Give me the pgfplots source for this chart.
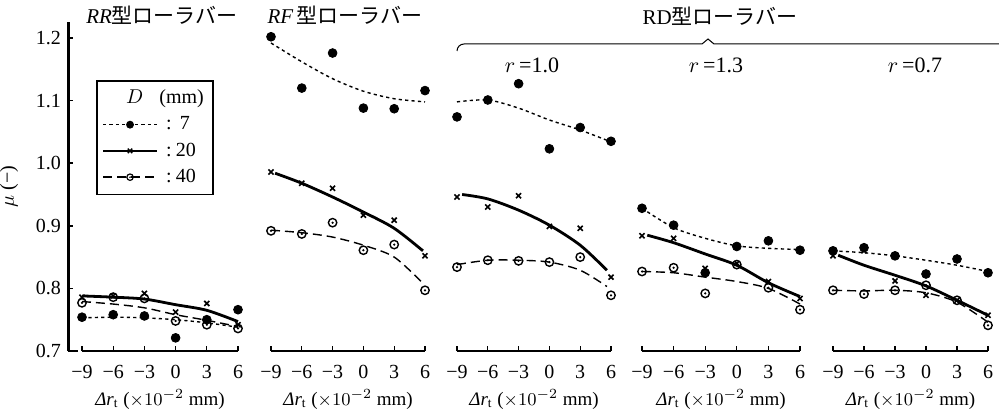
\documentclass[border=0pt]{standalone}
\usepackage{fontspec}
\setmainfont{Liberation Serif}
\newfontfamily\jp{Noto Sans CJK JP}
\usepackage{pgfplots}
\pgfplotsset{compat=1.18}
\pgfdeclareplotmark{odot}{%
  \pgfpathcircle{\pgfpointorigin}{\pgfplotmarksize}\pgfusepathqstroke
  \pgfpathcircle{\pgfpointorigin}{0.3\pgfplotmarksize}\pgfusepathqfill}
\pgfplotsset{
  s7line/.style={black, line width=0.7pt, dash pattern=on 1.6pt off 1.6pt},
  s20line/.style={black, line width=1.4pt},
  s40line/.style={black, line width=0.7pt, dash pattern=on 4.5pt off 2.5pt},
  s7mark/.style={black, only marks, mark=*, mark size=2.2pt, forget plot},
  s20mark/.style={black, only marks, mark=x, mark size=1.8pt, mark options={line width=0.8pt}, forget plot},
  s40mark/.style={black, only marks, mark=odot, mark size=2.1pt, mark options={line width=0.7pt}, forget plot},
  panel/.style={scale only axis, anchor=south west, height=156.5pt,
    xmin=-9, xmax=6, ymin=0.7, ymax=1.2, clip=false,
    axis x line*=bottom, axis y line=none,
    x axis line style={line width=1.4pt, -},
    xtick={-9,-6,-3,0,3,6}, xticklabels={−9,−6,−3,0,3,6},
    tick align=inside, major tick length=2.5pt,
    tick style={black, line width=0.6pt},
    xticklabel style={font=\fontsize{10}{11}\selectfont, yshift=-3.5pt},
    xlabel={{\itshape Δr}$_{\mathrm{t}}$ (${\times}10^{-2}$ mm)},
    xlabel style={font=\fontsize{9.5}{11}\selectfont, yshift=1.5pt},
  },
}
\begin{document}
\begin{tikzpicture}
\useasboundingbox (0pt,0pt) rectangle (499.5pt,206pt);
% y axis
\begin{axis}[scale only axis, anchor=south west, at={(34pt,30.5pt)},
  width=1pt, height=164.5pt, xmin=0, xmax=1, ymin=0.7, ymax=1.2256,
  axis x line=none, axis y line*=left,
  y axis line style={line width=1.5pt, -},
  ytick={0.7,0.8,0.9,1.0,1.1,1.2}, yticklabels={0.7,0.8,0.9,1.0,1.1,1.2},
  tick align=inside, major tick length=2.5pt, tick style={black, line width=0.8pt},
  extra y ticks={0.7}, extra y tick labels={}, extra y tick style={major tick length=5pt, tick style={line width=1.2pt}},
  yticklabel style={font=\fontsize{10}{11}\selectfont},
  ylabel={$\mu$ (−)}, ylabel style={font=\fontsize{10}{12}\selectfont, yshift=2pt},
]
\end{axis}
% Panel 1 RR
\begin{axis}[panel, at={(41pt,30.5pt)}, width=78pt,
  legend style={at={(0.09,0.866)}, anchor=north west, draw=black, line width=0.8pt,
    font=\fontsize{10}{12}\selectfont, row sep=1pt, inner sep=2.5pt, cells={anchor=west}},
  legend image code/.code={\draw[mark repeat=2,mark phase=2,#1] plot coordinates {(0pt,0pt) (13.5pt,0pt) (27pt,0pt)};},
]
\addlegendimage{empty legend}
\addlegendentry{\hspace*{-18pt}$D$\hspace*{8pt}(mm)}
\addlegendimage{s7line, mark=*, mark size=1.6pt, mark options={solid}}
\addlegendentry{\hspace{2pt}:\hspace{4pt}7}
\addlegendimage{s20line, line width=1.2pt, mark=x, mark size=1.6pt, mark options={solid, line width=0.7pt}}
\addlegendentry{\hspace{2pt}:\hspace{2pt}20}
\addlegendimage{s40line, mark=odot, mark size=1.6pt, mark options={solid, line width=0.6pt}}
\addlegendentry{\hspace{2pt}:\hspace{2pt}40}
\addplot[s7line, smooth, forget plot] coordinates {(-9,0.753)(-6,0.754)(-3,0.753)(0,0.750)(3,0.745)(6,0.738)};
\addplot[s20line, smooth, forget plot] coordinates {(-9,0.788)(-6,0.786)(-3,0.783)(0,0.774)(3,0.765)(6,0.747)};
\addplot[s40line, smooth, forget plot] coordinates {(-9,0.779)(-6,0.775)(-3,0.769)(0,0.758)(3,0.749)(6,0.739)};
\addplot[s7mark] coordinates {(-9,0.754)(-6,0.758)(-3,0.756)(0,0.721)(3,0.750)(6,0.766)};
\addplot[s20mark] coordinates {(-9,0.786)(-6,0.788)(-3,0.792)(0,0.762)(3,0.776)(6,0.742)};
\addplot[s40mark] coordinates {(-9,0.777)(-6,0.786)(-3,0.784)(0,0.748)(3,0.742)(6,0.736)};
\end{axis}
% Panel 2 RF
\begin{axis}[panel, at={(135.5pt,30.5pt)}, width=77pt]
\addplot[s7line, smooth] coordinates {(-9,1.192)(-6,1.162)(-3,1.135)(0,1.115)(3,1.103)(6,1.098)};
\addplot[s20line, smooth] coordinates {(-8.6,0.984)(-6,0.968)(-3,0.946)(0,0.922)(3,0.896)(5.8,0.860)};
\addplot[s40line, smooth] coordinates {(-9,0.893)(-6,0.889)(-3,0.882)(0,0.869)(3,0.850)(5.8,0.808)};
\addplot[s7mark] coordinates {(-9,1.202)(-6,1.120)(-3,1.176)(0,1.088)(3,1.087)(6,1.116)};
\addplot[s20mark] coordinates {(-9,0.986)(-6,0.968)(-3,0.960)(0,0.917)(3,0.909)(6,0.852)};
\addplot[s40mark] coordinates {(-9,0.892)(-6,0.887)(-3,0.905)(0,0.861)(3,0.870)(6,0.797)};
\end{axis}
% Panel 3 RD r=1.0
\begin{axis}[panel, at={(228.5pt,30.5pt)}, width=77pt]
\addplot[s7line, smooth] coordinates {(-9,1.098)(-6,1.101)(-3,1.088)(0,1.069)(3,1.053)(6,1.034)};
\addplot[s20line, smooth] coordinates {(-8.5,0.950)(-6,0.943)(-3,0.925)(0,0.901)(3,0.869)(5.6,0.829)};
\addplot[s40line, smooth] coordinates {(-9,0.838)(-6,0.845)(-3,0.845)(0,0.842)(3,0.829)(5.6,0.803)};
\addplot[s7mark] coordinates {(-9,1.074)(-6,1.101)(-3,1.127)(0,1.023)(3,1.057)(6,1.035)};
\addplot[s20mark] coordinates {(-9,0.946)(-6,0.930)(-3,0.948)(0,0.899)(3,0.896)(6,0.818)};
\addplot[s40mark] coordinates {(-9,0.834)(-6,0.845)(-3,0.844)(0,0.842)(3,0.850)(6,0.789)};
\end{axis}
% Panel 4 RD r=1.3
\begin{axis}[panel, at={(321pt,30.5pt)}, width=79pt]
\addplot[s7line, smooth] coordinates {(-9,0.928)(-6,0.897)(-3,0.880)(0,0.868)(3,0.864)(6,0.862)};
\addplot[s20line, smooth] coordinates {(-8.5,0.885)(-6,0.873)(-3,0.855)(0,0.837)(3,0.809)(6,0.787)};
\addplot[s40line, smooth] coordinates {(-9,0.827)(-6,0.825)(-3,0.818)(0,0.811)(3,0.800)(6,0.775)};
\addplot[s7mark] coordinates {(-9,0.928)(-6,0.901)(-3,0.825)(0,0.867)(3,0.876)(6,0.861)};
\addplot[s20mark] coordinates {(-9,0.884)(-6,0.880)(-3,0.832)(0,0.840)(3,0.811)(6,0.784)};
\addplot[s40mark] coordinates {(-9,0.827)(-6,0.833)(-3,0.792)(0,0.838)(3,0.801)(6,0.766)};
\end{axis}
% Panel 5 RD r=0.7
\begin{axis}[panel, at={(416.5pt,30.5pt)}, width=77.5pt]
\addplot[s7line, smooth] coordinates {(-9,0.860)(-6,0.857)(-3,0.852)(0,0.845)(3,0.837)(6,0.827)};
\addplot[s20line, smooth] coordinates {(-8.5,0.853)(-6,0.837)(-3,0.821)(0,0.804)(3,0.781)(6,0.757)};
\addplot[s40line, smooth] coordinates {(-9,0.797)(-6,0.796)(-3,0.797)(0,0.793)(3,0.778)(6,0.746)};
\addplot[s7mark] coordinates {(-9,0.860)(-6,0.865)(-3,0.852)(0,0.823)(3,0.847)(6,0.825)};
\addplot[s20mark] coordinates {(-9,0.852)(-6,0.860)(-3,0.812)(0,0.789)(3,0.781)(6,0.757)};
\addplot[s40mark] coordinates {(-9,0.797)(-6,0.791)(-3,0.797)(0,0.805)(3,0.781)(6,0.741)};
\end{axis}
% titles
\node[font=\fontsize{10.5}{12}\selectfont] at (81pt,198.5pt) {{\itshape RR}{\jp 型ローラバー}};
\node[font=\fontsize{10.5}{12}\selectfont] at (172.5pt,198.5pt) {{\itshape RF}\,{\jp 型ローラバー}};
\node[font=\fontsize{10.5}{12}\selectfont] at (360pt,198pt) {RD{\jp 型ローラバー}};
\draw[line width=0.5pt] (228.5pt,180.5pt) to[out=90,in=180] (232pt,184pt) -- (351pt,184pt) -- (354pt,186.5pt) -- (357pt,184pt) -- (499.5pt,184pt);
\node[font=\fontsize{11}{13}\selectfont] at (266pt,173.5pt) {$r$\,=1.0};
\node[font=\fontsize{11}{13}\selectfont] at (358pt,173.5pt) {$r$\,=1.3};
\node[font=\fontsize{11}{13}\selectfont] at (457.5pt,173.5pt) {$r$\,=0.7};
\end{tikzpicture}
\end{document}
